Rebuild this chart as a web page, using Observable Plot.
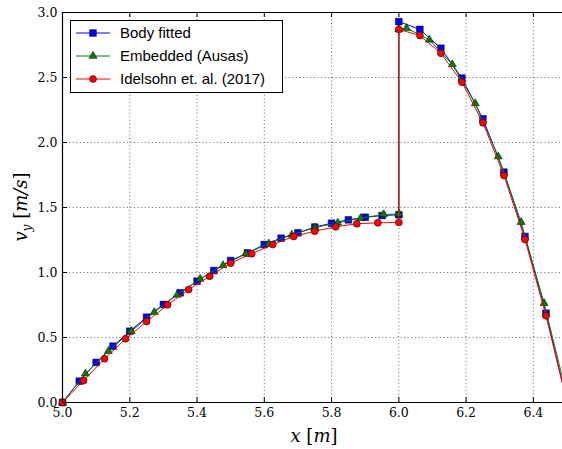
<!DOCTYPE html>
<html>
<head>
<meta charset="utf-8">
<script src="https://cdn.jsdelivr.net/npm/d3@7"></script>
<script src="https://cdn.jsdelivr.net/npm/@observablehq/plot@0.6"></script>
<style>
  body { margin: 0; background: #fff; }
  #chart { position: relative; width: 562px; height: 449px; overflow: hidden; background: #fff; }
</style>
</head>
<body>
<div id="chart"></div>
<script>
// ---- Data ----
const blueX = [5.0, 5.05, 5.1, 5.15, 5.2, 5.25, 5.3, 5.35, 5.4, 5.45, 5.5, 5.55, 5.6, 5.65, 5.7, 5.75, 5.8, 5.85, 5.9, 5.95, 6.0,
               6.0, 6.0625, 6.125, 6.1875, 6.25, 6.3125, 6.375, 6.4375, 6.5];
const blueY = [0.0, 0.164, 0.308, 0.433, 0.548, 0.656, 0.754, 0.844, 0.933, 1.015, 1.092, 1.15, 1.215, 1.264, 1.305, 1.349, 1.379, 1.405, 1.425, 1.438, 1.444,
               2.93, 2.87, 2.725, 2.495, 2.182, 1.772, 1.277, 0.687, 0.0];

const greenX = [5.0, 5.0682, 5.1364, 5.2045, 5.2727, 5.3409, 5.4091, 5.4773, 5.5455, 5.6136, 5.6818, 5.75, 5.8182, 5.8864, 5.9545, 6.0,
                6.0, 6.0227, 6.0909, 6.1591, 6.2273, 6.2955, 6.3636, 6.4318, 6.5];
const greenY = [0.0, 0.221, 0.395, 0.548, 0.695, 0.828, 0.95, 1.055, 1.145, 1.222, 1.29, 1.345, 1.382, 1.418, 1.446, 1.45,
                2.87, 2.88, 2.79, 2.60, 2.30, 1.892, 1.387, 0.764, 0.05];

const redX = [5.0, 5.0625, 5.125, 5.1875, 5.25, 5.3125, 5.375, 5.4375, 5.5, 5.5625, 5.625, 5.6875, 5.75, 5.8125, 5.875, 5.9375, 6.0,
              6.0, 6.0625, 6.125, 6.1875, 6.25, 6.3125, 6.375, 6.4375, 6.5];
const redY = [0.0, 0.169, 0.336, 0.49, 0.623, 0.751, 0.869, 0.971, 1.072, 1.144, 1.215, 1.277, 1.318, 1.351, 1.375, 1.382, 1.385,
              2.87, 2.823, 2.687, 2.464, 2.152, 1.746, 1.254, 0.667, 0.0];

const seriesNames = ["Body fitted", "Embedded (Ausas)", "Idelsohn et. al. (2017)"];
const xTicks = [5.0, 5.2, 5.4, 5.6, 5.8, 6.0, 6.2, 6.4];
const yTicks = [0.0, 0.5, 1.0, 1.5, 2.0, 2.5, 3.0];

// ---- Build tables ----
const toRows = (xs, ys) => xs.map((x, i) => ({x, y: ys[i]}));
const blue = toRows(blueX, blueY);
const green = toRows(greenX, greenY);
const red = toRows(redX, redY);

const colors = ["#0000ff", "#008000", "#ff0000"];
const symbols = ["square", "triangle", "circle"];
const radii = [3.8, 3.0, 3.5];
const SERIF = "'DejaVu Serif', serif";
const SANS = "'Liberation Sans', Arial, sans-serif";

const W = 562, H = 449, mL = 62, mT = 12, mB = 47, mR = 0;
const plotH = H - mT - mB, plotW = W - mL - mR;

const gridStyle = {stroke: "#000", strokeOpacity: 0.6, strokeWidth: 1, strokeDasharray: "1,2.6"};
const series = [blue, green, red];

const marks = [
  Plot.gridX(xTicks, gridStyle),
  Plot.gridY(yTicks, gridStyle)
];
series.forEach((d, i) => {
  marks.push(Plot.line(d, {x: "x", y: "y", stroke: colors[i], strokeWidth: 1}));
  marks.push(Plot.dot(d, {x: "x", y: "y", symbol: symbols[i], r: radii[i], fill: colors[i], stroke: "#000", strokeWidth: 0.5}));
});
marks.push(
  Plot.tickX(xTicks, {x: d => d, insetTop: plotH - 5, stroke: "#000"}),
  Plot.tickX(xTicks, {x: d => d, insetBottom: plotH - 5, stroke: "#000"}),
  Plot.tickY(yTicks, {y: d => d, insetRight: plotW - 5, stroke: "#000"}),
  Plot.axisX(xTicks, {tickSize: 0, tickPadding: 6, tickFormat: d => d.toFixed(1), label: null}),
  Plot.axisY(yTicks, {tickSize: 0, tickPadding: 5, tickFormat: d => d.toFixed(1), label: null}),
  Plot.ruleY([0, 3], {stroke: "#000", strokeWidth: 1.2}),
  Plot.ruleX([5.0], {stroke: "#000", strokeWidth: 1.2})
);

const svg = Plot.plot({
  width: W, height: H,
  marginLeft: mL, marginTop: mT, marginBottom: mB, marginRight: mR,
  x: {domain: [5.0, 6.4866]},
  y: {domain: [0, 3]},
  style: {fontSize: "13px", color: "#000", background: "#fff", overflow: "hidden"},
  marks
});
document.getElementById("chart").appendChild(svg);

const s = d3.select(svg);
// serif tick labels: restyle every text Plot produced (only axis tick labels exist at this point)
s.selectAll("text")
  .attr("font-family", SERIF)
  .style("font-family", SERIF).style("font-size", "12.5px").style("font-variant", "normal");

// ---- Axis labels (math-style text) ----
const xl = s.append("text")
  .attr("x", 314).attr("y", 442)
  .attr("text-anchor", "middle")
  .style("font-family", SERIF).style("font-size", "18px").attr("fill", "#000");
xl.append("tspan").attr("font-style", "italic").text("x");
xl.append("tspan").text(" [");
xl.append("tspan").attr("font-style", "italic").text("m");
xl.append("tspan").text("]");

const yl = s.append("text")
  .attr("transform", "translate(27,207) rotate(-90)")
  .attr("text-anchor", "middle")
  .style("font-family", SERIF).style("font-size", "18px").attr("fill", "#000");
yl.append("tspan").attr("font-style", "italic").text("v");
yl.append("tspan").attr("font-style", "italic").style("font-size", "12px").attr("dy", 4).text("y");
yl.append("tspan").attr("dy", -4).text(" [");
yl.append("tspan").attr("font-style", "italic").text("m/s");
yl.append("tspan").text("]");

// ---- Legend ----
const lg = s.append("g").attr("text-anchor", "start");
lg.append("rect").attr("x", 70.5).attr("y", 20.5).attr("width", 212).attr("height", 72)
  .attr("fill", "#fff").attr("stroke", "#000").attr("stroke-width", 1);
const d3sym = [d3.symbolSquare, d3.symbolTriangle, d3.symbolCircle];
seriesNames.forEach((name, i) => {
  const cy = 33 + i * 23;
  lg.append("line").attr("x1", 76).attr("x2", 110).attr("y1", cy).attr("y2", cy)
    .attr("stroke", colors[i]).attr("stroke-width", 1);
  lg.append("path").attr("d", d3.symbol(d3sym[i], Math.PI * radii[i] * radii[i])())
    .attr("transform", `translate(93,${cy})`)
    .attr("fill", colors[i]).attr("stroke", "#000").attr("stroke-width", 0.5);
  lg.append("text").attr("x", 120).attr("y", cy).attr("dy", "0.35em")
    .attr("text-anchor", "start")
    .style("font-family", SANS).style("font-size", "15px")
    .attr("fill", "#000").text(name);
});
</script>
</body>
</html>
